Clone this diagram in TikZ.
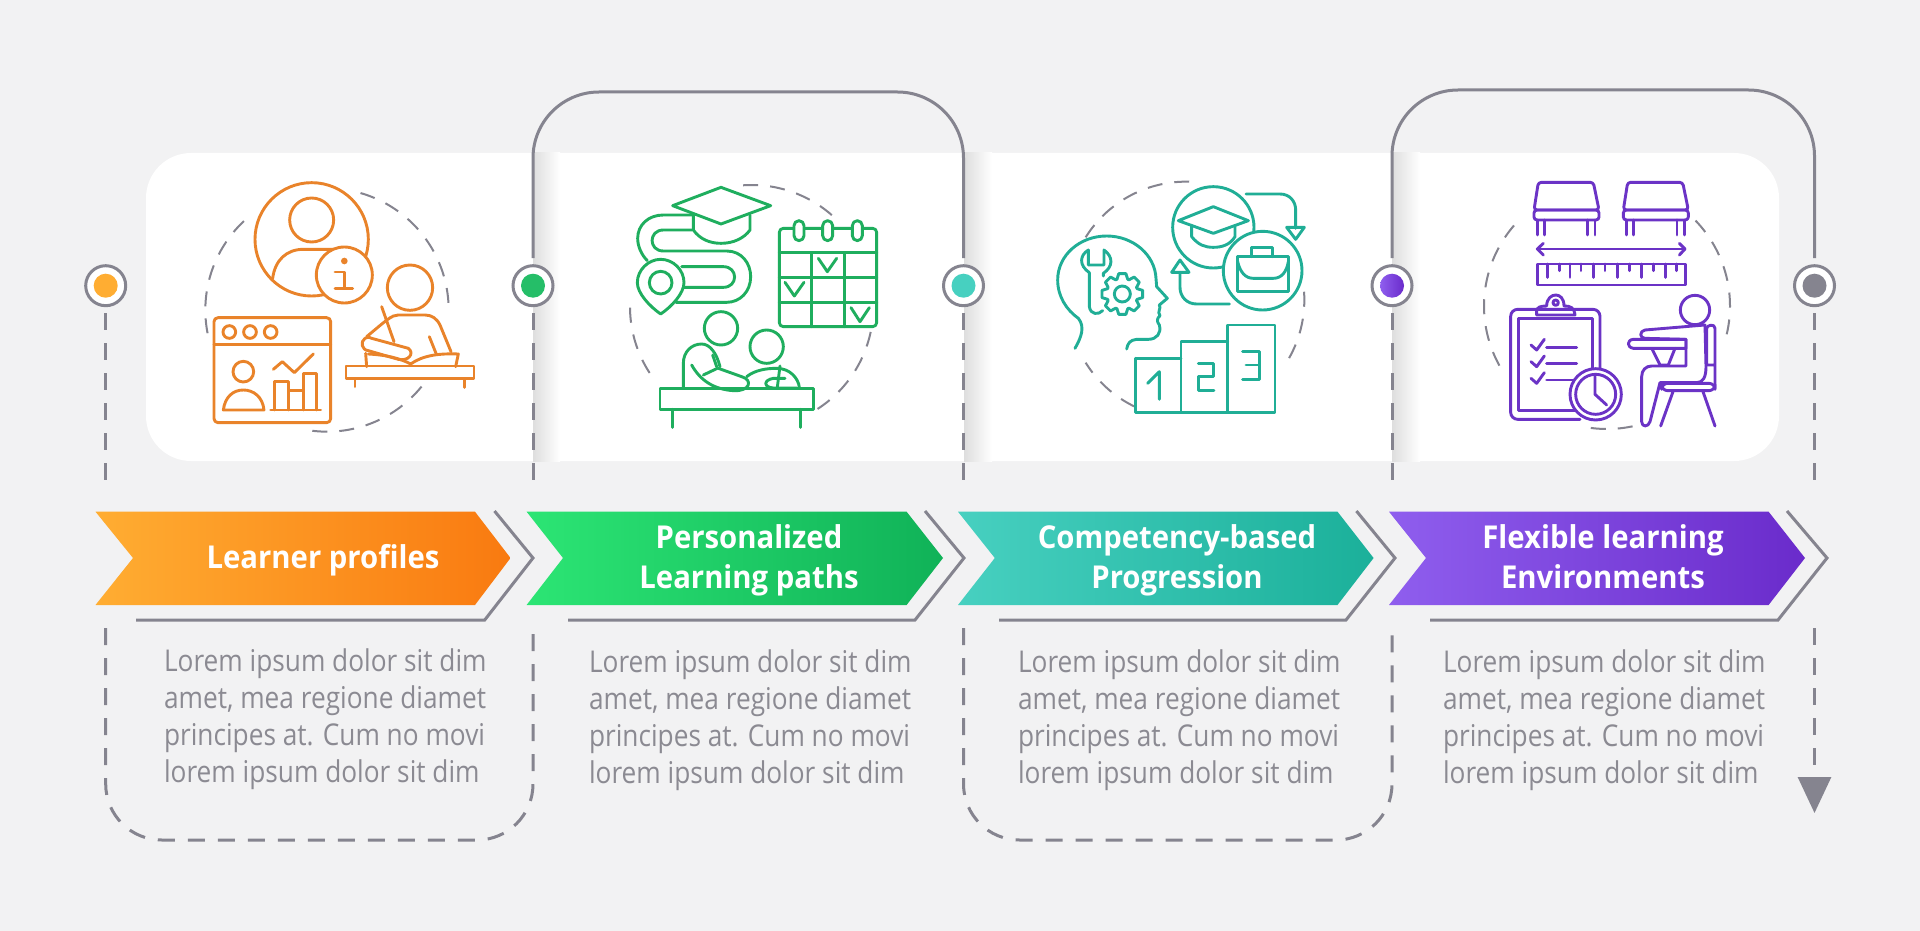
\documentclass[tikz,border=0pt]{standalone}
\usepackage{fontspec}
\setmainfont{Open Sans}
\newfontfamily\ttlfont[FakeStretch=0.93]{Open Sans}
\newfontfamily\bodyfont[FakeStretch=0.875]{Open Sans}
\usetikzlibrary{arrows.meta}
\definecolor{bgc}{HTML}{F2F2F3}
\definecolor{lnc}{HTML}{85848F}
\definecolor{txc}{HTML}{8B8A92}
\definecolor{ic1}{HTML}{E9832A}
\definecolor{ic2}{HTML}{1FAE5E}
\definecolor{ic3}{HTML}{20AE96}
\definecolor{ic4}{HTML}{6B33C6}
\definecolor{oa}{HTML}{FFAD32}\definecolor{ob}{HTML}{F97A10}
\definecolor{ga}{HTML}{2CE574}\definecolor{gb}{HTML}{10B258}
\definecolor{ta}{HTML}{47D0C0}\definecolor{tb}{HTML}{1BB09A}
\definecolor{pa}{HTML}{8F5EEE}\definecolor{pb}{HTML}{6A2BCB}
\definecolor{gdot}{HTML}{25BE68}
\tikzset{
  ico/.style={line width=2.9pt,line cap=round,line join=round},
  darc/.style={draw=lnc,line width=2pt,dash pattern=on 15pt off 12pt},
  solidc/.style={draw=lnc,line width=3pt,rounded corners=66pt,shorten <=6pt,shorten >=6pt},
  dashc/.style={draw=lnc,line width=3pt,dash pattern=on 17pt off 13pt,rounded corners=56pt},
  outl/.style={draw=lnc,line width=3pt,line join=miter},
  ring/.style={circle,draw=lnc,fill=white,line width=3pt,minimum size=40pt,inner sep=0pt},
  dotn/.style={circle,minimum size=24pt,inner sep=0pt},
  ttl/.style={text=white,align=center,font=\ttlfont\bfseries\fontsize{31.5}{40}\selectfont},
  body/.style={text=txc,align=left,anchor=west,font=\bodyfont\fontsize{30}{37}\selectfont},
  zoomu/.style={x=0.33333pt,y=-0.33333pt}
}
\newcommand{\darcs}[5]{\draw[darc] plot[domain=#4:#5,samples=50,smooth] ({#1+#3*cos(\x)},{#2+#3*sin(\x)});}
\begin{document}
\begin{tikzpicture}[x=1pt,y=-1pt]
\useasboundingbox (0,0) rectangle (1920,931);
\fill[bgc] (0,0) rectangle (1920,931);
% panel
\fill[white,rounded corners=45pt] (146,153) rectangle (1779,461);
\shade[left color=black!13,right color=white] (533,153) rectangle (560,461);
\shade[left color=black!13,right color=white] (964,153) rectangle (992,461);
\shade[left color=black!13,right color=white] (1392,153) rectangle (1420,461);
% circles
\node[ring] (c1) at (105.7,285.7) {};
\node[ring] (c2) at (533,285.7) {};
\node[ring] (c3) at (963.5,285.7) {};
\node[ring] (c4) at (1392,285.7) {};
\node[ring] (c5) at (1814.5,285.7) {};
\node[dotn,fill=oa] (d1) at (c1) {};
\node[dotn,fill=gdot] (d2) at (c2) {};
\node[dotn,fill=ta] (d3) at (c3) {};
\node[dotn,left color=pa,right color=pb] (d4) at (c4) {};
\node[dotn,fill=lnc] (d5) at (c5) {};
% free ends of broken dashed connectors
\coordinate (u1) at (105.7,492);\coordinate (l1) at (105.7,628);
\coordinate (u2) at (533,492);\coordinate (l2) at (533,628);
\coordinate (u3) at (963.5,492);\coordinate (l3) at (963.5,628);
\coordinate (u4) at (1392,492);\coordinate (l4) at (1392,628);
\coordinate (u5) at (1814.5,492);\coordinate (l5) at (1814.5,628);\coordinate (e5) at (1814.5,813);
% connectors
\draw[solidc] (c2.north) -- (533,92) -- (963.5,92) -- (c3.north);
\draw[solidc] (c4.north) -- (1392,90) -- (1814.5,90) -- (c5.north);
\foreach \k in {1,...,5}{\draw[dashc,shorten <=6pt] (c\k.south) -- (u\k);}
\draw[dashc] (l1) -- (105.7,840) -- (533,840) -- (l2);
\draw[dashc] (l3) -- (963.5,840) -- (1392,840) -- (l4);
\draw[dashc,-{Triangle[length=36pt,width=33pt]}] (l5) -- (e5);
% chevron outlines
\draw[outl] (494.5,511) -- (533,558) -- (484.7,620) -- (136,620);
\draw[outl] (925,511) -- (964,558) -- (915,620) -- (568,620);
\draw[outl] (1356.4,511) -- (1395,558) -- (1346,620) -- (999,620);
\draw[outl] (1787,511) -- (1827,558) -- (1778,620) -- (1430,620);
% chevrons
\shade[left color=oa,right color=ob] (95.5,511.7) -- (475,511.7) -- (510.5,558) -- (475,605) -- (95.5,605) -- (133,558) -- cycle;
\shade[left color=ga,right color=gb] (526.6,511.7) -- (906.6,511.7) -- (943,558) -- (906.6,605) -- (526.6,605) -- (563,558) -- cycle;
\shade[left color=ta,right color=tb] (958,511.7) -- (1337.5,511.7) -- (1373.6,558) -- (1337.5,605) -- (958,605) -- (994.8,558) -- cycle;
\shade[left color=pa,right color=pb] (1389,511.7) -- (1768.6,511.7) -- (1805,558) -- (1768.6,605) -- (1389,605) -- (1426,558) -- cycle;
% titles
\node[ttl] (t1) at (323,560) {\strut Learner profiles};
\node[ttl] (t2) at (749,560) {\strut Personalized\\\strut Learning paths};
\node[ttl] (t3) at (1177,560) {\strut Competency-based\\\strut Progression};
\node[ttl] (t4) at (1603,560) {\strut Flexible learning\\\strut Environments};
% body
\node[body] (b1) at (160.5,719) {Lorem ipsum dolor sit dim\\amet, mea regione diamet\\principes at. Cum no movi\\lorem ipsum dolor sit dim};
\node[body] (b2) at (585.5,720.5) {Lorem ipsum dolor sit dim\\amet, mea regione diamet\\principes at. Cum no movi\\lorem ipsum dolor sit dim};
\node[body] (b3) at (1014.5,720.5) {Lorem ipsum dolor sit dim\\amet, mea regione diamet\\principes at. Cum no movi\\lorem ipsum dolor sit dim};
\node[body] (b4) at (1439.5,720.5) {Lorem ipsum dolor sit dim\\amet, mea regione diamet\\principes at. Cum no movi\\lorem ipsum dolor sit dim};
% ---------- icon 1
\begin{scope}[shift={(70,150)},zoomu]
\darcs{771}{480}{365}{-74}{-2}
\darcs{771}{480}{365}{169}{229}
\darcs{771}{480}{365}{39}{100}
\begin{scope}[ic1,ico]
\draw (725,268) circle[radius=170];
\draw (725,210) circle[radius=66];
\draw (608,385) .. controls (615,330) and (650,298) .. (700,298) -- (800,298);
\draw[fill=white] (823,375) circle[radius=84];
\fill (823,333) circle[radius=10];
\draw (795,366) -- (823,366) -- (823,415);
\draw (795,415) -- (848,415);
\draw (1020,413) circle[radius=68];
\draw (1143,605) -- (1110,525) .. controls (1100,505) and (1085,495) .. (1065,495) -- (985,495) .. controls (965,495) and (950,510) .. (890,560);
\draw (885,565) .. controls (870,575) and (875,600) .. (895,602) -- (985,628) .. controls (1015,635) and (1035,610) .. (1015,595) -- (905,565) .. controls (895,560) and (890,562) .. (885,565);
\draw (935,470) -- (972,575);
\draw (1078,560) -- (1098,610);
\draw (887,610) -- (890,650);
\draw (895,612) .. controls (950,615) and (990,625) .. (1022,642) .. controls (1060,615) and (1110,610) .. (1165,612) -- (1157,650);
\draw (828,648) rectangle (1212,686);
\draw (855,686) -- (855,710) (1184,686) -- (1184,712);
\draw[rounded corners=4pt] (432,503) rectangle (782,818);
\draw (432,583) -- (782,583);
\draw (478,546) circle[radius=19] (540,546) circle[radius=19] (602,546) circle[radius=19];
\draw (520,665) circle[radius=31];
\draw (460,780) .. controls (465,740) and (490,720) .. (520,720) .. controls (550,720) and (578,740) .. (582,780) -- cycle;
\draw (602,780) -- (752,780);
\draw (614,780) -- (614,695) -- (656,695) -- (656,780);
\draw (656,722) -- (700,722);
\draw (700,780) -- (700,670) -- (740,670) -- (740,780);
\draw (610,658) -- (637,635) -- (673,668) -- (730,612);
\end{scope}
\end{scope}
% ---------- icon 2
\begin{scope}[shift={(520,150)},zoomu]
\darcs{695}{470}{365}{-94}{-46}
\darcs{695}{470}{365}{12}{58}
\darcs{695}{470}{365}{147}{180}
\begin{scope}[ic2,ico]
\draw (520,195) -- (520,240) .. controls (540,268) and (570,280) .. (603,280) .. controls (640,280) and (672,265) .. (690,240) -- (690,195);
\draw[fill=white] (603,112) -- (752,167) -- (603,222) -- (458,167) -- cycle;
\draw (515,195) -- (430,195) .. controls (385,195) and (353,225) .. (353,265) .. controls (353,290) and (365,315) .. (382,332);
\draw (515,240) -- (430,240) .. controls (385,240) and (385,303) .. (430,303) -- (620,303) .. controls (665,303) and (692,340) .. (692,380) .. controls (692,425) and (660,457) .. (620,457) -- (468,457);
\draw (485,350) -- (610,350) .. controls (655,350) and (655,412) .. (610,412) -- (490,412);
\draw[fill=white] (422,492) .. controls (390,470) and (352,430) .. (352,398) .. controls (352,360) and (385,328) .. (422,328) .. controls (460,328) and (492,360) .. (492,398) .. controls (492,430) and (455,470) .. (422,492) -- cycle;
\draw (422,398) circle[radius=34];
\draw[rounded corners=4pt] (778,235) rectangle (1070,530);
\draw (778,308) -- (1070,308) (778,382) -- (1070,382) (778,458) -- (1070,458);
\draw (875,308) -- (875,530) (973,308) -- (973,530);
\foreach \q in {837,923,1012}{\draw[fill=white,rounded corners=5pt] (\q-15,212) rectangle (\q+15,272);}
\draw (895,325) -- (922,365) -- (950,325);
\draw (795,397) -- (823,438) -- (852,397);
\draw (993,473) -- (1020,515) -- (1048,473);
\draw (603,535) circle[radius=50];
\draw (740,590) circle[radius=50];
\draw (490,715) -- (490,640) .. controls (490,605) and (515,582) .. (545,582) .. controls (570,582) and (590,610) .. (600,650);
\draw (515,645) .. controls (540,690) and (580,718) .. (640,722) .. controls (690,725) and (700,690) .. (665,680) -- (595,655);
\draw (550,675) -- (592,655);
\draw (578,615) -- (590,650);
\draw (680,680) .. controls (705,660) and (740,655) .. (770,655) .. controls (810,655) and (835,685) .. (838,712);
\draw (795,685) -- (760,685) .. controls (730,690) and (730,712) .. (760,714) (830,714) -- (760,714);
\draw (780,648) -- (772,712);
\draw (420,716) rectangle (880,778);
\draw (457,778) -- (457,832) (842,778) -- (842,832);
\end{scope}
\end{scope}
% ---------- icon 3
\begin{scope}[shift={(960,150)},zoomu]
\darcs{678}{450}{355}{-148}{-87}
\darcs{678}{450}{355}{-4}{30}
\darcs{678}{450}{355}{116}{148}
\begin{scope}[ic3,ico]
\draw (345,595) .. controls (365,560) and (375,530) .. (355,505) .. controls (320,480) and (293,440) .. (293,390) .. controls (293,315) and (360,258) .. (440,258) .. controls (520,258) and (585,315) .. (588,385) -- (590,410) -- (622,445) -- (598,465) .. controls (605,475) and (590,485) .. (600,497) .. controls (590,505) and (590,515) .. (598,525) .. controls (605,550) and (590,568) .. (565,568) -- (530,568) .. controls (510,570) and (503,580) .. (500,597);
\draw (385,300) .. controls (360,315) and (355,345) .. (388,368) -- (388,470) .. controls (392,495) and (415,495) .. (428,482);
\draw (385,300) -- (385,345) -- (432,345) -- (432,300) .. controls (460,320) and (460,350) .. (430,370) -- (430,378);
\begin{scope}[shift={(487,432)}]
\draw[fill=white] (-20:47) \foreach \a in {0,45,...,315}{ -- ({\a-20}:47) -- ({\a-10}:62) -- ({\a+10}:62) -- ({\a+20}:47) } -- cycle;
\draw (0,0) circle[radius=24];
\end{scope}
\draw (760,232) circle[radius=122];
\draw (655,212) -- (760,170) -- (865,212) -- (760,250) -- cycle;
\draw (695,228) -- (695,260) .. controls (715,285) and (735,292) .. (760,292) .. controls (785,292) and (810,285) .. (825,260) -- (825,228);
\draw[fill=white] (908,362) circle[radius=118];
\draw (833,320) rectangle (985,425);
\draw (833,335) .. controls (840,365) and (855,385) .. (880,385) -- (940,385) .. controls (965,385) and (980,365) .. (985,335);
\draw (875,320) -- (875,292) -- (938,292) -- (938,320);
\draw (858,132) -- (960,132) .. controls (990,132) and (1007,155) .. (1007,180) -- (1007,235);
\draw (980,232) -- (1033,232) -- (1007,268) -- cycle;
\draw (808,462) -- (710,462) .. controls (680,462) and (660,440) .. (660,412) -- (660,367);
\draw (635,367) -- (687,367) -- (660,330) -- cycle;
\draw (527,625) -- (527,787) -- (945,787) -- (945,525) -- (803,525) -- (803,787);
\draw (663,787) -- (663,575) -- (803,575);
\draw (527,625) -- (663,625);
\draw (563,700) -- (598,665) -- (598,748);
\draw (715,640) -- (760,640) -- (760,680) -- (715,680) -- (715,722) -- (762,722);
\draw (848,605) -- (898,605) -- (898,688) -- (848,688) (858,645) -- (898,645);
\end{scope}
\end{scope}
% ---------- icon 4
\begin{scope}[shift={(1400,150)},zoomu]
\darcs{621}{468}{369}{151}{225}
\darcs{621}{468}{369}{-44}{16}
\darcs{621}{468}{369}{78}{99}
\begin{scope}[ic4,ico]
\foreach \dx/\w in {0/0,268/-2}{
\begin{scope}[xshift=\dx*0.33333pt]
\draw[rounded corners=3pt] (415,97) -- (580,97) -- (597,180) -- (402,180) -- cycle;
\draw[rounded corners=3pt] (402,180) rectangle (597,210);
\draw (412,210) -- (412,255) (433,210) -- (433,255) (563,210) -- (563,255) (585,210) -- (585,255);
\end{scope}}
\draw (412,297) -- (855,297);
\draw (430,280) -- (412,297) -- (430,315) (838,280) -- (855,297) -- (838,315);
\draw (413,342) rectangle (857,405);
\foreach \q in {443,510,580,653,725,797}{\draw (\q,342) -- (\q,382);}
\foreach \q in {478,543,615,688,760,830}{\draw (\q,342) -- (\q,362);}
\draw[rounded corners=7pt] (600,680) -- (600,478) -- (332,478) -- (332,808) -- (540,808);
\draw (540,782) -- (355,782) -- (355,505) -- (578,505) -- (578,660);
\draw (410,495) -- (410,482) .. controls (412,472) and (420,468) .. (440,468) .. controls (440,445) and (455,435) .. (467,435) .. controls (480,435) and (492,445) .. (492,468) .. controls (512,468) and (522,472) .. (525,495) -- cycle;
\draw (467,458) circle[radius=8];
\foreach \q in {0,50,100}{\draw (393,585+\q) -- (410,600+\q) -- (433,568+\q);}
\draw (440,592) -- (530,592) (440,640) -- (530,640) (440,690) -- (520,690);
\draw[fill=white] (587,733) circle[radius=77];
\draw (587,733) circle[radius=60];
\draw (585,680) -- (585,733) -- (620,765);
\draw (885,480) circle[radius=44];
\draw (915,525) -- (735,540) .. controls (718,543) and (718,565) .. (735,565) -- (855,568);
\draw (858,595) -- (700,595) .. controls (680,592) and (680,570) .. (700,568) -- (858,568) -- cycle;
\draw (755,595) -- (780,645) -- (805,645) -- (825,595);
\draw (915,525) -- (918,650) .. controls (918,680) and (910,698) .. (890,698) -- (780,698) -- (750,815) .. controls (745,832) and (725,832) .. (725,815) -- (725,680) .. controls (725,660) and (738,648) .. (755,648) -- (858,648) -- (858,568);
\draw (920,535) .. controls (920,525) and (945,520) .. (945,535) -- (945,715) (920,535) -- (920,645) -- (945,645);
\draw[rounded corners=6pt] (785,700) rectangle (945,722);
\draw (820,722) -- (782,828) (908,722) -- (945,828);
\end{scope}
\end{scope}
\end{tikzpicture}
\end{document}
